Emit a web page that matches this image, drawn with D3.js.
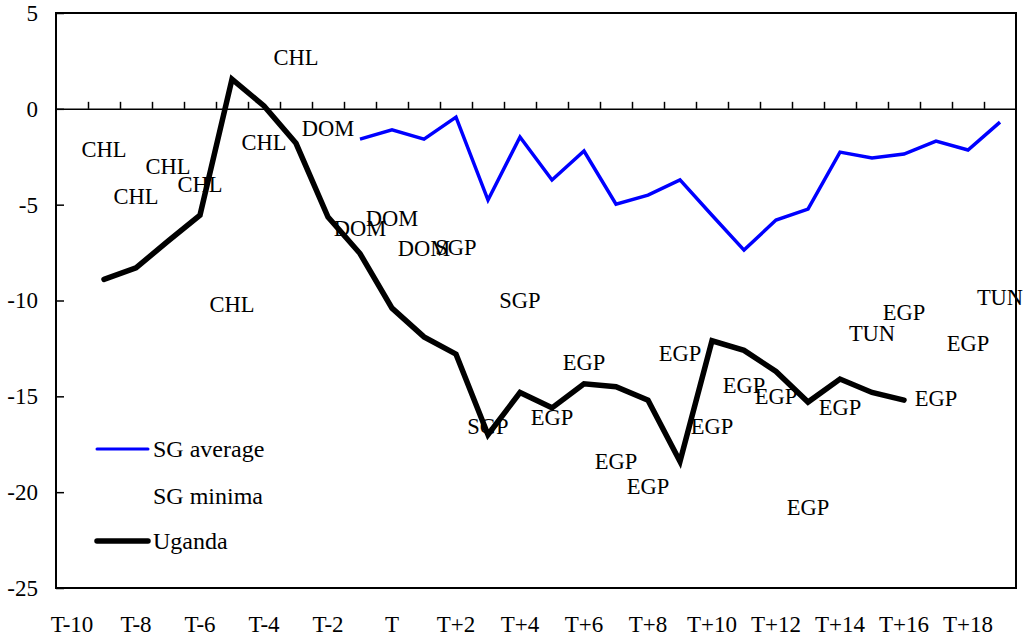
<!DOCTYPE html>
<html>
<head>
<meta charset="utf-8">
<script src="https://cdn.jsdelivr.net/npm/d3@7"></script>
<style>
  body { margin: 0; background: #fff; }
  svg text { font-family: "Liberation Serif", "Times New Roman", serif; font-size: 22px; fill: #000; }
</style>
</head>
<body>
<div id="chart"></div>
<script>
// event-time categories
var categories = ["T-10","T-9","T-8","T-7","T-6","T-5","T-4","T-3","T-2","T-1",
  "T","T+1","T+2","T+3","T+4","T+5","T+6","T+7","T+8","T+9",
  "T+10","T+11","T+12","T+13","T+14","T+15","T+16","T+17","T+18","T+19"]

var xLabels = ["T-10","T-8","T-6","T-4","T-2","T","T+2","T+4","T+6","T+8",
  "T+10","T+12","T+14","T+16","T+18"]

var yTicks = [5, 0, -5, -10, -15, -20, -25]

// SG average (blue line)
var sgAverage = [null,null,null,null,null,null,null,null,null,-1.58,
  -1.1,-1.58,-0.43,-4.76,-1.47,-3.71,-2.2,-4.97,-4.5,-3.71,
  -5.55,-7.37,-5.8,-5.23,-2.26,-2.57,-2.36,-1.68,-2.15,-0.69]

// Uganda (black line)
var uganda = [null,-8.9,-8.3,-6.9,-5.55,1.55,0.15,-1.8,-5.65,-7.55,
  -10.4,-11.9,-12.8,-17.0,-14.8,-15.6,-14.35,-14.5,-15.2,-18.4,
  -12.1,-12.6,-13.7,-15.3,-14.1,-14.8,-15.2,null,null,null]

// SG minima, shown as country codes
var sgMinima = [null,-2.1,-4.55,-3.0,-3.95,-10.2,-1.75,2.7,-1.0,-6.2,
  -5.7,-7.25,-7.2,-16.55,-10.0,-16.1,-13.2,-18.4,-19.7,-12.75,
  -16.55,-14.4,-15.0,-20.8,-15.55,-11.7,-10.6,-15.1,-12.2,-9.8]
var minimaCountry = [null,"CHL","CHL","CHL","CHL","CHL","CHL","CHL","DOM","DOM",
  "DOM","DOM","SGP","SGP","SGP","EGP","EGP","EGP","EGP","EGP",
  "EGP","EGP","EGP","EGP","EGP","TUN","EGP","EGP","EGP","TUN"]

var width = 1026, height = 641
var plotLeft = 56, plotRight = 1016, plotTop = 13, plotBottom = 588

var svg = d3.select("#chart").append("svg")
  .attr("width", width)
  .attr("height", height)

var x = d3.scaleBand().domain(categories).range([plotLeft, plotRight])
var xc = function(c) { return x(c) + x.bandwidth() / 2 }
var y = d3.scaleLinear().domain([-25, 5]).range([plotBottom, plotTop])

// y axis, ticks pointing inward
var yAxis = svg.append("g")
  .attr("transform", "translate(" + plotLeft + ",0)")
  .call(d3.axisLeft(y).tickValues(yTicks).tickSize(-8).tickPadding(18).tickFormat(function(d) { return String(d) }))
yAxis.select(".domain").remove()
yAxis.selectAll("line").attr("stroke", "#000").attr("stroke-width", 1.5)
yAxis.selectAll("text").style("font-size", "23px").style("font-family", '"Liberation Serif", serif').attr("fill", "#000")

// x labels at bottom
var xAxis = svg.append("g")
  .attr("transform", "translate(0," + plotBottom + ")")
  .call(d3.axisBottom(x).tickValues(xLabels).tickSize(0).tickPadding(28))
xAxis.select(".domain").remove()
xAxis.selectAll("text").style("font-size", "23px").style("font-family", '"Liberation Serif", serif').attr("fill", "#000")

// zero line with category boundary ticks
var bounds = d3.scaleLinear().domain([0, categories.length]).range([plotLeft, plotRight])
var zeroAxis = svg.append("g")
  .attr("transform", "translate(0," + y(0) + ")")
  .call(d3.axisTop(bounds).tickValues(d3.range(1, categories.length)).tickSize(7).tickSizeOuter(0).tickFormat(""))
zeroAxis.select(".domain").attr("stroke", "#000").attr("stroke-width", 1.5)
zeroAxis.selectAll("line").attr("stroke", "#000").attr("stroke-width", 1.5)

// frame
svg.append("rect")
  .attr("x", plotLeft).attr("y", plotTop)
  .attr("width", plotRight - plotLeft).attr("height", plotBottom - plotTop)
  .attr("fill", "none").attr("stroke", "#000").attr("stroke-width", 2)

var line = d3.line()
  .defined(function(d) { return d != null })
  .x(function(d, i) { return xc(categories[i]) })
  .y(function(d) { return y(d) })

svg.append("path")
  .datum(sgAverage)
  .attr("d", line)
  .attr("fill", "none")
  .attr("stroke", "#0000ff")
  .attr("stroke-width", 3.5)
  .attr("stroke-linejoin", "miter")

svg.append("path")
  .datum(uganda)
  .attr("d", line)
  .attr("fill", "none")
  .attr("stroke", "#000")
  .attr("stroke-width", 5.5)
  .attr("stroke-linecap", "round")

// minima labels
svg.append("g")
  .selectAll("text")
  .data(sgMinima.map(function(v, i) { return { v: v, c: categories[i], t: minimaCountry[i] } })
    .filter(function(d) { return d.v != null }))
  .enter().append("text")
  .attr("x", function(d) { return xc(d.c) })
  .attr("y", function(d) { return y(d.v) })
  .attr("dy", "0.35em")
  .attr("text-anchor", "middle")
  .style("font-size", "22.5px")
  .text(function(d) { return d.t })

// legend
var legendItems = [
  { name: "SG average", color: "#0000ff", w: 3, ly: 449 },
  { name: "SG minima", color: null, w: 0, ly: 496 },
  { name: "Uganda", color: "#000", w: 5.5, ly: 541 }
]
var legend = svg.append("g").selectAll("g")
  .data(legendItems)
  .enter().append("g")
legend.filter(function(d) { return d.color })
  .append("line")
  .attr("x1", 97).attr("x2", 148)
  .attr("y1", function(d) { return d.ly }).attr("y2", function(d) { return d.ly })
  .attr("stroke", function(d) { return d.color })
  .attr("stroke-width", function(d) { return d.w })
  .attr("stroke-linecap", "round")
legend.append("text")
  .attr("x", 153)
  .attr("y", function(d) { return d.ly })
  .attr("dy", "0.35em")
  .style("font-size", "24px")
  .text(function(d) { return d.name })
</script>
</body>
</html>
